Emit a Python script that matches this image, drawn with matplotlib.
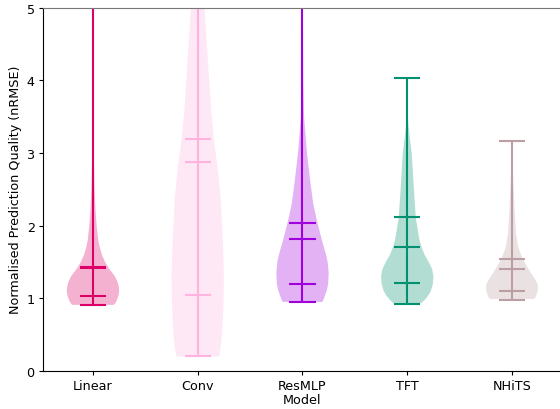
import numpy as np
import matplotlib.pyplot as plt

plt.rcParams['font.size'] = 9.2

# --- data ---
models = ['Linear', 'Conv', 'ResMLP', 'TFT', 'NHiTS']
colors = ['#dd0066', '#ffb3de', '#a000dc', '#009170', '#bc9ea3']

# density outlines (value, relative half-width)
linear_y = [0.91, 0.95, 1.0, 1.05, 1.1, 1.15, 1.2, 1.25, 1.3, 1.35, 1.4, 1.5, 1.6, 1.7, 1.8, 2.0, 2.2, 2.5, 3.0, 4.0, 5.0, 6.0, 6.6]
linear_w = [0.80, 0.88, 0.94, 0.98, 1.0, 0.99, 0.96, 0.91, 0.84, 0.74, 0.63, 0.46, 0.34, 0.26, 0.20, 0.14, 0.10, 0.06, 0.03, 0.015, 0.01, 0.005, 0.002]

conv_y = [0.2, 0.4, 0.7, 1.0, 1.3, 1.7, 2.0, 2.4, 2.8, 3.2, 3.6, 4.2, 5.0, 5.5, 6.0, 6.5, 7.0]
conv_w = [0.82, 0.90, 0.96, 0.99, 1.0, 0.97, 0.93, 0.87, 0.76, 0.61, 0.51, 0.40, 0.26, 0.19, 0.12, 0.07, 0.03]

resmlp_y = [0.95, 1.0, 1.1, 1.2, 1.35, 1.5, 1.6, 1.7, 1.8, 1.9, 2.0, 2.1, 2.3, 2.6, 3.0, 3.5, 4.0, 5.0, 6.0, 6.5]
resmlp_w = [0.76, 0.82, 0.92, 0.98, 1.0, 0.96, 0.90, 0.82, 0.74, 0.67, 0.60, 0.53, 0.41, 0.30, 0.17, 0.06, 0.03, 0.015, 0.005, 0.002]

tft_y = [0.93, 0.97, 1.0, 1.05, 1.1, 1.2, 1.3, 1.4, 1.5, 1.6, 1.7, 1.8, 1.9, 2.1, 2.4, 2.7, 3.0, 3.2, 3.4, 3.7, 4.04]
tft_w = [0.52, 0.64, 0.72, 0.82, 0.90, 0.98, 1.0, 0.95, 0.82, 0.66, 0.55, 0.47, 0.42, 0.33, 0.27, 0.22, 0.17, 0.10, 0.04, 0.01, 0.003]

nhits_y = [0.99, 1.02, 1.05, 1.1, 1.15, 1.2, 1.25, 1.3, 1.35, 1.4, 1.45, 1.55, 1.7, 1.9, 2.2, 2.6, 2.9, 3.16]
nhits_w = [0.85, 0.90, 0.94, 0.98, 1.0, 0.97, 0.90, 0.81, 0.72, 0.63, 0.55, 0.40, 0.24, 0.15, 0.10, 0.05, 0.02, 0.005]

mins = [0.91, 0.21, 0.95, 0.92, 0.98]
maxs = [6.6, 7.0, 6.5, 4.03, 3.16]
means = [1.43, 2.87, 1.81, 1.70, 1.40]
medians = [1.03, 1.04, 1.20, 1.21, 1.10]
upper_q = [1.41, 3.19, 2.03, 2.12, 1.54]

outlines = [(linear_y, linear_w), (conv_y, conv_w), (resmlp_y, resmlp_w),
            (tft_y, tft_w), (nhits_y, nhits_w)]

vpstats = []
for i, (cy, cw) in enumerate(outlines):
    vpstats.append({
        'coords': np.array(cy),
        'vals': np.array(cw),
        'mean': means[i],
        'median': medians[i],
        'min': mins[i],
        'max': maxs[i],
        'quantiles': [upper_q[i]],
    })

fig = plt.figure(figsize=(5.6, 4.1), dpi=100)
ax = fig.add_axes([43 / 560, 38 / 410, 517 / 560, 363.5 / 410])

positions = np.arange(1, len(models) + 1)
parts = ax.violin(vpstats, positions=positions, widths=0.5,
                  showmeans=True, showmedians=True, showextrema=True)

for body, c in zip(parts['bodies'], colors):
    body.set_facecolor(c)
    body.set_edgecolor('none')
    body.set_alpha(0.3)

for key in ['cbars', 'cmins', 'cmaxes', 'cmeans', 'cmedians', 'cquantiles']:
    if key in parts:
        parts[key].set_color(colors)
        parts[key].set_linewidth(1.5)

ax.set_xticks(positions)
ax.set_xticklabels(models)
ax.tick_params(axis='both', length=3, pad=3)
ax.set_xlim(0.523, 5.458)
ax.set_ylim(0, 5)
ax.set_xlabel('Model', labelpad=0.5)
ax.set_ylabel('Normalised Prediction Quality (nRMSE)', labelpad=3)
ax.spines['right'].set_visible(False)
ax.spines['top'].set_color('#777777')

fig.savefig('out.png', dpi=100)
